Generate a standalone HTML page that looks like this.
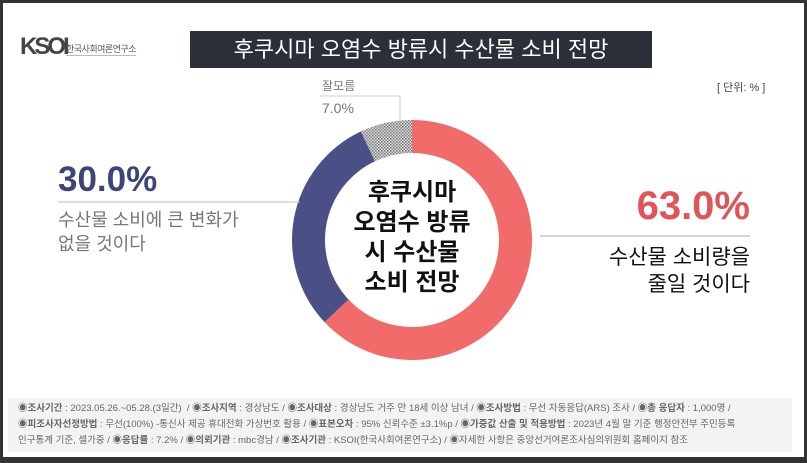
<!DOCTYPE html>
<html><head><meta charset="utf-8"><style>
body{margin:0;width:807px;height:463px;overflow:hidden;background:#fff;font-family:"Liberation Sans","Noto Sans CJK KR",sans-serif;}
.abs{position:absolute;white-space:nowrap;}
</style></head><body>
<div style="position:absolute;left:0;top:0;width:807px;height:463px;box-sizing:border-box;border:3px solid #333;border-bottom:6px solid #333;background:#fff"></div>
<div class="abs" style="left:20px;top:33px;font-size:24px;font-weight:bold;color:#444;letter-spacing:-3px">KSOI</div>
<div class="abs" style="left:66px;top:42px;font-size:9px;color:#555;border-bottom:1px solid #bbb;letter-spacing:-0.5px">한국사회여론연구소</div>
<div class="abs" style="left:190px;top:31px;width:462px;height:37px;background:#2b3038;color:#fff;font-size:22px;line-height:37px;text-align:center">후쿠시마 오염수 방류시 수산물 소비 전망</div>
<div class="abs" style="left:717px;top:79px;font-size:11px;color:#444">[ 단위: % ]</div>
<div class="abs" style="left:322px;top:77px;font-size:12px;color:#777">잘모름</div>
<div class="abs" style="left:322px;top:100px;font-size:14px;color:#777">7.0%</div>
<svg width="807" height="463" style="position:absolute;left:0;top:0">
<defs><pattern id="hatch" width="3" height="3" patternUnits="userSpaceOnUse"><rect width="3" height="3" fill="#ddd"/><rect width="1.5" height="1.5" fill="#777"/><rect x="1.5" y="1.5" width="1.5" height="1.5" fill="#888"/></pattern></defs>
<line x1="320" y1="96" x2="400" y2="96" stroke="#ccc"/>
<line x1="400" y1="96" x2="400" y2="124" stroke="#ccc"/>
<g id="slices"></g>
<line x1="540" y1="236" x2="750" y2="236" stroke="#aaa"/>
<line x1="58" y1="202" x2="300" y2="202" stroke="#bbb"/>
</svg>
<div class="abs" style="left:332px;top:178px;width:160px;text-align:center;font-size:24px;font-weight:bold;line-height:30px;color:#111">후쿠시마<br>오염수 방류<br>시 수산물<br>소비 전망</div>
<div class="abs" style="right:57px;top:184px;font-size:40px;font-weight:bold;color:#e05558">63.0%</div>
<div class="abs" style="right:57px;top:244px;text-align:right;font-size:21px;line-height:27px;color:#111">수산물 소비량을<br>줄일 것이다</div>
<div class="abs" style="left:58px;top:160px;font-size:35px;font-weight:bold;color:#3d4478">30.0%</div>
<div class="abs" style="left:58px;top:208px;font-size:18px;line-height:24px;color:#777">수산물 소비에 큰 변화가<br>없을 것이다</div>
<div class="abs" style="left:8px;top:398px;width:784px;height:54px;background:#f3f3f3;font-size:9.5px;line-height:16px;color:#666;padding:3px 10px;box-sizing:border-box;white-space:normal">
<b>◉조사기간</b> : 2023.05.26.~05.28.(3일간) &nbsp;/ <b>◉조사지역</b> : 경상남도 / <b>◉조사대상</b> : 경상남도 거주 만 18세 이상 남녀 / <b>◉조사방법</b> : 무선 자동응답(ARS) 조사 / <b>◉총 응답자</b> : 1,000명 /<br><b>◉피조사자선정방법</b> : 무선(100%) -통신사 제공 휴대전화 가상번호 활용 / <b>◉표본오차</b> : 95% 신뢰수준 ±3.1%p / <b>◉가중값 산출 및 적용방법</b> : 2023년 4월 말 기준 행정안전부 주민등록<br>인구통계 기준, 셀가중 / <b>◉응답률</b> : 7.2% / <b>◉의뢰기관</b> : mbc경남 / <b>◉조사기관</b> : KSOI(한국사회여론연구소) / ◉자세한 사항은 중앙선거여론조사심의위원회 홈페이지 참조</div>
<script>
const categories=["줄일 것이다","큰 변화 없음","잘모름"];
const values=[63.0,30.0,7.0];
const colors=["#f26b6b","#4a4f86","url(#hatch)"];
const cx=412,cy=240,R=120,r=87;
const g=document.getElementById('slices');
const total=values.reduce((a,b)=>a+b,0);
let a0=-Math.PI/2;
function pt(rad,a){return [cx+rad*Math.cos(a),cy+rad*Math.sin(a)];}
values.forEach((v,i)=>{
  const a1=a0+v/total*2*Math.PI;
  const [x0,y0]=pt(R,a0),[x1,y1]=pt(R,a1),[x2,y2]=pt(r,a1),[x3,y3]=pt(r,a0);
  const lg=(a1-a0)>Math.PI?1:0;
  const p=document.createElementNS('http://www.w3.org/2000/svg','path');
  p.setAttribute('d',`M${x0},${y0}A${R},${R} 0 ${lg} 1 ${x1},${y1}L${x2},${y2}A${r},${r} 0 ${lg} 0 ${x3},${y3}Z`);
  p.setAttribute('fill',colors[i]);
  
  
  g.appendChild(p);
  a0=a1;
});
</script>
</body></html>
